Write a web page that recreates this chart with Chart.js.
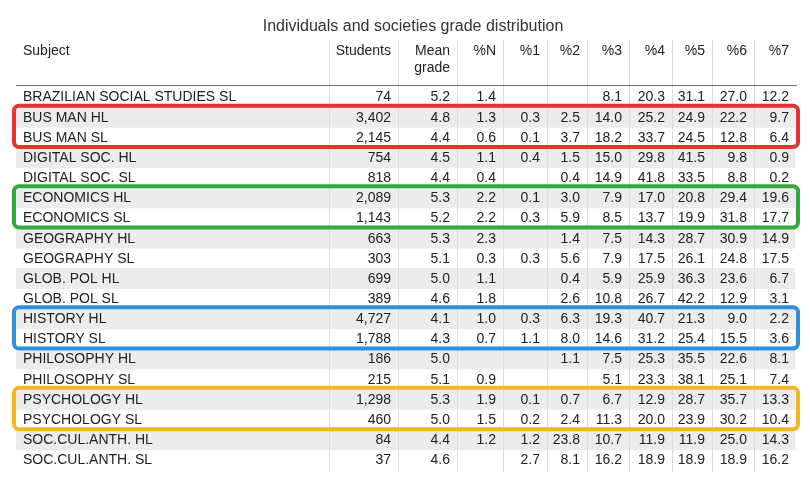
<!DOCTYPE html>
<html>
<head>
<meta charset="utf-8">
<script src="https://cdn.jsdelivr.net/npm/chart.js@4/dist/chart.umd.min.js"></script>
<style>
  html, body { margin: 0; padding: 0; background: #ffffff; }
  #wrap { width: 810px; height: 487px; }
</style>
</head>
<body>
<div id="wrap"><canvas id="c" width="810" height="487"></canvas></div>
<script>
// ---------- DATA ----------
const chartTitle = "Individuals and societies grade distribution";
const subjectHeader = "Subject";
const columnLabels = ["Students", ["Mean", "grade"], "%N", "%1", "%2", "%3", "%4", "%5", "%6", "%7"];
const subjects = [
  "BRAZILIAN SOCIAL STUDIES SL", "BUS MAN HL", "BUS MAN SL", "DIGITAL SOC. HL", "DIGITAL SOC. SL",
  "ECONOMICS HL", "ECONOMICS SL", "GEOGRAPHY HL", "GEOGRAPHY SL", "GLOB. POL HL", "GLOB. POL SL",
  "HISTORY HL", "HISTORY SL", "PHILOSOPHY HL", "PHILOSOPHY SL", "PSYCHOLOGY HL", "PSYCHOLOGY SL",
  "SOC.CUL.ANTH. HL", "SOC.CUL.ANTH. SL"
];
const students  = [74, 3402, 2145, 754, 818, 2089, 1143, 663, 303, 699, 389, 4727, 1788, 186, 215, 1298, 460, 84, 37];
const meanGrade = [5.2, 4.8, 4.4, 4.5, 4.4, 5.3, 5.2, 5.3, 5.1, 5.0, 4.6, 4.1, 4.3, 5.0, 5.1, 5.3, 5.0, 4.4, 4.6];
const pctN = [1.4, 1.3, 0.6, 1.1, 0.4, 2.2, 2.2, 2.3, 0.3, 1.1, 1.8, 1.0, 0.7, null, 0.9, 1.9, 1.5, 1.2, null];
const pct1 = [null, 0.3, 0.1, 0.4, null, 0.1, 0.3, null, 0.3, null, null, 0.3, 1.1, null, null, 0.1, 0.2, 1.2, 2.7];
const pct2 = [null, 2.5, 3.7, 1.5, 0.4, 3.0, 5.9, 1.4, 5.6, 0.4, 2.6, 6.3, 8.0, 1.1, null, 0.7, 2.4, 23.8, 8.1];
const pct3 = [8.1, 14.0, 18.2, 15.0, 14.9, 7.9, 8.5, 7.5, 7.9, 5.9, 10.8, 19.3, 14.6, 7.5, 5.1, 6.7, 11.3, 10.7, 16.2];
const pct4 = [20.3, 25.2, 33.7, 29.8, 41.8, 17.0, 13.7, 14.3, 17.5, 25.9, 26.7, 40.7, 31.2, 25.3, 23.3, 12.9, 20.0, 11.9, 18.9];
const pct5 = [31.1, 24.9, 24.5, 41.5, 33.5, 20.8, 19.9, 28.7, 26.1, 36.3, 42.2, 21.3, 25.4, 35.5, 38.1, 28.7, 23.9, 11.9, 18.9];
const pct6 = [27.0, 22.2, 12.8, 9.8, 8.8, 29.4, 31.8, 30.9, 24.8, 23.6, 12.9, 9.0, 15.5, 22.6, 25.1, 35.7, 30.2, 25.0, 18.9];
const pct7 = [12.2, 9.7, 6.4, 0.9, 0.2, 19.6, 17.7, 14.9, 17.5, 6.7, 3.1, 2.2, 3.6, 8.1, 7.4, 13.3, 10.4, 14.3, 16.2];
const highlightGroups = [
  ["BUS MAN HL", "BUS MAN SL"],
  ["ECONOMICS HL", "ECONOMICS SL"],
  ["HISTORY HL", "HISTORY SL"],
  ["PSYCHOLOGY HL", "PSYCHOLOGY SL"]
];

// ---------- LAYOUT / STYLE ----------
const FONT = "'Liberation Sans', Arial, Helvetica, sans-serif";
const TEXT_COLOR = "#222222";
const TABLE_LEFT = 16, TABLE_RIGHT = 795;
const SUBJECT_X = 23;
const SUBJECT_SEP = 329;
const COL_RIGHT = [398, 457, 503, 547, 587, 629, 672, 712, 754, 796];
const CELL_PAD = 7;
const HIGHLIGHT_COLORS = ["#e3342f", "#34a83a", "#2e8fdd", "#f2b824"];

const valueColumns = [students, meanGrade, pctN, pct1, pct2, pct3, pct4, pct5, pct6, pct7];
const fmt = (col, v) => {
  if (v === null || v === undefined) return "";
  if (col === 0) return v.toLocaleString("en-US");
  return v.toFixed(1);
};

const tablePlugin = {
  id: "tableDraw",
  afterDatasetsDraw(chart) {
    const { ctx, chartArea } = chart;
    const x = chart.scales.x, y = chart.scales.y;
    const rowH = y.getPixelForValue(1) - y.getPixelForValue(0);
    const top = chartArea.top, bottom = chartArea.bottom;
    ctx.save();

    // vertical separators
    ctx.strokeStyle = "#dcdcdc";
    ctx.lineWidth = 1;
    const seps = [SUBJECT_SEP].concat(COL_RIGHT.slice(0, -1));
    seps.forEach(s => {
      const px = Math.round(x.getPixelForValue(s)) + 0.5;
      ctx.beginPath();
      ctx.moveTo(px, top - 47);
      ctx.lineTo(px, bottom + 2);
      ctx.stroke();
    });

    // header rule
    ctx.strokeStyle = "#707070";
    ctx.beginPath();
    const ry = Math.round(top - 2) + 0.5;
    ctx.moveTo(x.getPixelForValue(TABLE_LEFT), ry);
    ctx.lineTo(x.getPixelForValue(COL_RIGHT[COL_RIGHT.length - 1]) + 1, ry);
    ctx.stroke();

    // header text
    ctx.fillStyle = TEXT_COLOR;
    ctx.font = "14px " + FONT;
    ctx.textBaseline = "middle";
    ctx.textAlign = "left";
    ctx.fillText(subjectHeader, x.getPixelForValue(SUBJECT_X), top - 35.5);
    ctx.textAlign = "right";
    columnLabels.forEach((lab, c) => {
      const px = x.getPixelForValue(COL_RIGHT[c] - CELL_PAD);
      const lines = Array.isArray(lab) ? lab : [lab];
      lines.forEach((ln, k) => ctx.fillText(ln, px, top - 35.5 + k * 17));
    });

    // cells
    subjects.forEach((s, i) => {
      const py = y.getPixelForValue(i) + 0.5;
      ctx.textAlign = "left";
      ctx.fillText(s, x.getPixelForValue(SUBJECT_X), py);
      ctx.textAlign = "right";
      valueColumns.forEach((col, c) => {
        const t = fmt(c, col[i]);
        if (t) ctx.fillText(t, x.getPixelForValue(COL_RIGHT[c] - CELL_PAD), py);
      });
    });

    // highlight boxes
    highlightGroups.forEach((grp, g) => {
      const idx = grp.map(n => subjects.indexOf(n));
      const t = y.getPixelForValue(Math.min(...idx)) - rowH / 2 - 1.5;
      const b = y.getPixelForValue(Math.max(...idx)) + rowH / 2 - 0.5;
      const l = x.getPixelForValue(14), r = x.getPixelForValue(798);
      const rad = 5;
      ctx.strokeStyle = HIGHLIGHT_COLORS[g];
      ctx.lineWidth = 4;
      ctx.beginPath();
      ctx.moveTo(l + rad, t);
      ctx.lineTo(r - rad, t);
      ctx.arcTo(r, t, r, t + rad, rad);
      ctx.lineTo(r, b - rad);
      ctx.arcTo(r, b, r - rad, b, rad);
      ctx.lineTo(l + rad, b);
      ctx.arcTo(l, b, l, b - rad, rad);
      ctx.lineTo(l, t + rad);
      ctx.arcTo(l, t, l + rad, t, rad);
      ctx.closePath();
      ctx.stroke();
    });
    ctx.restore();
  }
};

new Chart(document.getElementById("c"), {
  type: "bar",
  data: {
    labels: subjects,
    datasets: [{
      label: "stripes",
      data: subjects.map((_, i) => (i % 2 === 1 ? [TABLE_LEFT, TABLE_RIGHT] : null)),
      backgroundColor: "#ececec",
      borderWidth: 0,
      categoryPercentage: 1,
      barPercentage: 1
    }]
  },
  options: {
    indexAxis: "y",
    responsive: false,
    animation: false,
    layout: { padding: { left: 16, right: 0, top: 0, bottom: 17 } },
    scales: {
      x: { type: "linear", min: 16, max: 810, display: false },
      y: { type: "category", display: false, offset: true }
    },
    plugins: {
      legend: { display: false },
      tooltip: { enabled: false },
      title: {
        display: true,
        text: chartTitle,
        color: "#333333",
        font: { family: FONT, size: 16, weight: "normal" },
        padding: { top: 17, bottom: 50.8 }
      }
    }
  },
  plugins: [tablePlugin]
});
</script>
</body>
</html>
